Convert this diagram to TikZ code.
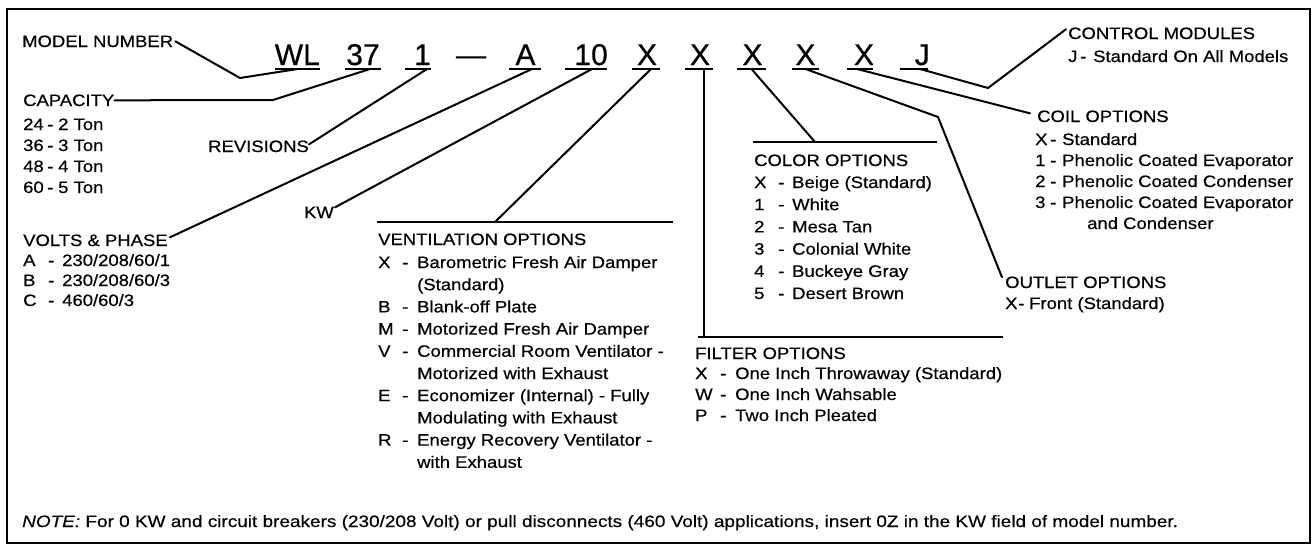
\documentclass[tikz,border=0pt]{standalone}
\usepackage{fontspec}
\setmainfont{Liberation Sans}
\newfontfamily\bodyf[FakeStretch=1.12,FakeBold=0.5]{Liberation Sans}
\newfontfamily\notef[FakeStretch=1.15,FakeBold=0.4]{Liberation Sans}
\newfontfamily\codef[FakeBold=0.6]{Liberation Sans}
\newcommand\bsz[1]{\bodyf\fontsize{16.5}{#1}\selectfont}
\begin{document}
\begin{tikzpicture}[x=1pt,y=-1pt,
  lbl/.style={inner sep=0pt, anchor=base west, font=\bsz{21}},
  codetxt/.style={inner sep=0pt, anchor=base, font=\codef\fontsize{30}{30}\selectfont},
  ul/.style={inner sep=0pt, minimum height=2pt, fill=black, draw=none},
  conn/.style={line width=2pt, line join=round, line cap=round},
  rulestyle/.style={line width=1.5pt},
  frame/.style={line width=2pt}]
\useasboundingbox (0,0) rectangle (1315,552);
\draw[frame] (7,9) rectangle (1310,543);

% model number code
\node[codetxt, anchor=base east] (cWL) at (320,65) {WL};
\node[codetxt] (c37) at (363,65) {37};
\node[codetxt, anchor=base east] (c1) at (431,65) {1};
\node[codetxt] (cdash) at (471,65) {—};
\node[codetxt] (cA) at (525.5,65) {A};
\node[codetxt, anchor=base east] (c10) at (608,65) {10};
\node[codetxt] (cX1) at (647,65) {X};
\node[codetxt] (cX2) at (700,65) {X};
\node[codetxt] (cX3) at (752.5,65) {X};
\node[codetxt] (cX4) at (805.5,65) {X};
\node[codetxt] (cX5) at (864,65) {X};
\node[codetxt, anchor=base east] (cJ) at (930,65) {J};

% underlines
\node[ul, minimum width=45pt] (uWL) at (297.5,69) {};
\node[ul, minimum width=36pt] (u37) at (363,69) {};
\node[ul, minimum width=26pt] (u1) at (418,69) {};
\node[ul, minimum width=32pt] (uA) at (525,69) {};
\node[ul, minimum width=42pt] (u10) at (586,69) {};
\node[ul, minimum width=28pt] (uX1) at (646,69) {};
\node[ul, minimum width=28pt] (uX2) at (699,69) {};
\node[ul, minimum width=29pt] (uX3) at (751.5,69) {};
\node[ul, minimum width=27pt] (uX4) at (805.5,69) {};
\node[ul, minimum width=26pt] (uX5) at (860,69) {};
\node[ul, minimum width=28pt] (uJ) at (914,69) {};

% left labels
\node[lbl] (mn) at (22,47) {MODEL NUMBER};
\node[lbl] (cap) at (23,106) {CAPACITY};
\node[lbl] (capL) at (23,130) {\begin{tabular}[t]{@{}p{24pt}@{}p{11pt}@{}l@{}}24&-&2 Ton\\36&-&3 Ton\\48&-&4 Ton\\60&-&5 Ton\end{tabular}};
\node[lbl] (rev) at (208,152) {REVISIONS};
\node[lbl, anchor=base east] (kw) at (334,218) {KW};
\node[lbl] (vp) at (23,246) {VOLTS \& PHASE};
\node[lbl, font=\bsz{20}] (vpL) at (23,266) {\begin{tabular}[t]{@{}p{25pt}@{}p{14pt}@{}l@{}}A&-&230/208/60/1\\B&-&230/208/60/3\\C&-&460/60/3\end{tabular}};

% ventilation
\draw[rulestyle] (377,222) -- (673,222);
\coordinate (ventJ) at (495,222);
\node[lbl] (vent) at (378,245) {VENTILATION OPTIONS};
\node[lbl, font=\bsz{22.2}] (ventL) at (378,268) {\begin{tabular}[t]{@{}p{24pt}@{}p{15pt}@{}l@{}}
X&-&Barometric Fresh Air Damper\\
&&(Standard)\\
B&-&Blank-off Plate\\
M&-&Motorized Fresh Air Damper\\
V&-&Commercial Room Ventilator -\\
&&Motorized with Exhaust\\
E&-&Economizer (Internal) - Fully\\
&&Modulating with Exhaust\\
R&-&Energy Recovery Ventilator -\\
&&with Exhaust\end{tabular}};

% color
\draw[rulestyle] (753,142) -- (937,142);
\coordinate (colJ) at (815,142);
\node[lbl] (color) at (754,166) {COLOR OPTIONS};
\node[lbl, font=\bsz{22.2}] (colorL) at (754,188) {\begin{tabular}[t]{@{}p{24pt}@{}p{14pt}@{}l@{}}
X&-&Beige (Standard)\\
1&-&White\\
2&-&Mesa Tan\\
3&-&Colonial White\\
4&-&Buckeye Gray\\
5&-&Desert Brown\end{tabular}};

% filter
\draw[rulestyle] (698,337) -- (1003,337);
\coordinate (filtJ) at (704,337);
\node[lbl] (filt) at (695,359) {FILTER OPTIONS};
\node[lbl] (filtL) at (695,379) {\begin{tabular}[t]{@{}p{25pt}@{}p{15pt}@{}l@{}}
X&-&One Inch Throwaway (Standard)\\
W&-&One Inch Wahsable\\
P&-&Two Inch Pleated\end{tabular}};

% outlet
\node[lbl] (outl) at (1005,288) {OUTLET OPTIONS};
\node[lbl] (outlL) at (1005,309) {\begin{tabular}[t]{@{}p{13pt}@{}p{11pt}@{}l@{}}X&-&Front (Standard)\end{tabular}};

% coil
\node[lbl] (coil) at (1037,122) {COIL OPTIONS};
\node[lbl] (coilL) at (1035,145) {\begin{tabular}[t]{@{}p{15pt}@{}p{12pt}@{}l@{}}
X&-&Standard\\
1&-&Phenolic Coated Evaporator\\
2&-&Phenolic Coated Condenser\\
3&-&Phenolic Coated Evaporator\\
&&\hspace{25pt}and Condenser\end{tabular}};

% control
\node[lbl] (ctrl) at (1068,39) {CONTROL MODULES};
\node[lbl] (ctrlL) at (1068,62) {\begin{tabular}[t]{@{}p{12pt}@{}p{13pt}@{}l@{}}J&-&Standard On All Models\end{tabular}};

% connectors
\draw[conn] ([xshift=2pt]mn.east) -- (240,78) -- (uWL.center);
\draw[conn] (cap.east) -- (273,100) -- ([xshift=7pt]u37.center);
\draw[conn] ([yshift=2pt]rev.east) -- ([xshift=9pt]u1.center);
\draw[conn] ([xshift=2pt,yshift=3pt]vp.east) -- ([xshift=7pt]uA.center);
\draw[conn] ([xshift=1pt,yshift=5pt]kw.east) -- ([xshift=6pt]u10.center);
\draw[conn] ([xshift=5pt]uX1.center) -- (ventJ);
\draw[conn] ([xshift=5pt]uX2.center) -- (filtJ);
\draw[conn] (uX3.center) -- (colJ);
\draw[conn] (uX4.center) -- (938,117) -- ([xshift=-3pt,yshift=-1pt]outl.north west);
\draw[conn] ([xshift=-3pt]uX5.center) -- ([xshift=-7pt,yshift=3pt]coil.west);
\draw[conn] ([xshift=6pt]uJ.center) -- (988,88) -- ([xshift=-2pt,yshift=-2pt]ctrl.north west);

% note
\node[inner sep=0pt, anchor=base west, font=\notef\fontsize{16.5}{18}\selectfont] (note) at (22,527) {\textit{NOTE:} For 0 KW and circuit breakers (230/208 Volt) or pull disconnects (460 Volt) applications, insert 0Z in the KW field of model number.};
\end{tikzpicture}
\end{document}
